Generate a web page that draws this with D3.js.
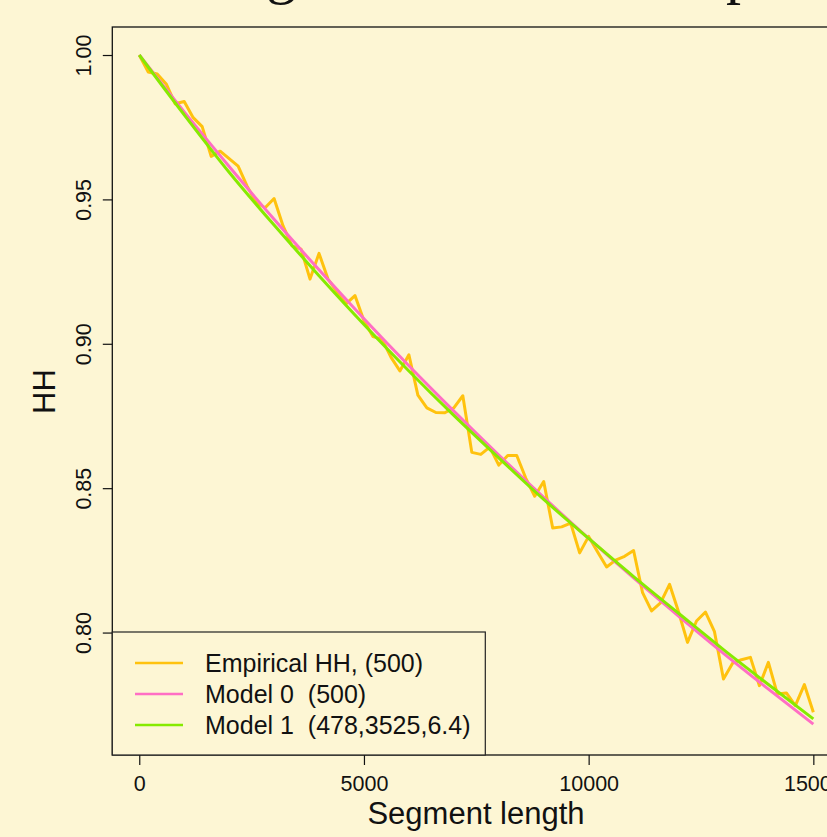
<!DOCTYPE html>
<html>
<head>
<meta charset="utf-8">
<script src="https://cdn.jsdelivr.net/npm/d3@7"></script>
<style>
  body { margin: 0; background: #fdf6d4; }
  svg { display: block; }
  text { font-family: "Liberation Sans", Arial, sans-serif; fill: #111; }
</style>
</head>
<body>
<svg width="827" height="837"></svg>
<script>
// segment lengths for the empirical curve
const segLen = [0, 200, 400, 600, 800, 1000, 1200, 1400, 1600, 1800,
  2000, 2200, 2400, 2600, 2800, 3000, 3200, 3400, 3600, 3800,
  4000, 4200, 4400, 4600, 4800, 5000, 5200, 5400, 5600, 5800,
  6000, 6200, 6400, 6600, 6800, 7000, 7200, 7400, 7600, 7800,
  8000, 8200, 8400, 8600, 8800, 9000, 9200, 9400, 9600, 9800,
  10000, 10200, 10400, 10600, 10800, 11000, 11200, 11400, 11600, 11800,
  12000, 12200, 12400, 12600, 12800, 13000, 13200, 13400, 13600, 13800,
  14000, 14200, 14400, 14600, 14800, 15000];

const empiricalHH = [1.0000, 0.9941, 0.9934, 0.9900, 0.9831, 0.9839, 0.9783, 0.9752, 0.9649, 0.9667,
  0.9641, 0.9615, 0.9546, 0.9489, 0.9471, 0.9503, 0.9408, 0.9339, 0.9328, 0.9224,
  0.9313, 0.9224, 0.9180, 0.9138, 0.9167, 0.9080, 0.9025, 0.9016, 0.8954, 0.8906,
  0.8962, 0.8822, 0.8778, 0.8762, 0.8761, 0.8778, 0.8820, 0.8624, 0.8617, 0.8642,
  0.8580, 0.8613, 0.8613, 0.8535, 0.8472, 0.8523, 0.8362, 0.8366, 0.8379, 0.8276,
  0.8333, 0.8279, 0.8227, 0.8251, 0.8264, 0.8284, 0.8138, 0.8075, 0.8103, 0.8167,
  0.8072, 0.7966, 0.8040, 0.8071, 0.8003, 0.7839, 0.7893, 0.7906, 0.7914, 0.7816,
  0.7897, 0.7787, 0.7791, 0.7747, 0.7820, 0.7724];

// model curves, read every 1000
const modelLen = [0, 1000, 2000, 3000, 4000, 5000, 6000, 7000, 8000, 9000,
  10000, 11000, 12000, 13000, 14000, 15000];
const model0 = [1.0000, 0.9803, 0.9614, 0.9431, 0.9256, 0.9087, 0.8924, 0.8767,
  0.8615, 0.8468, 0.8326, 0.8189, 0.8057, 0.7928, 0.7804, 0.7683];
const model1 = [1.0000, 0.9793, 0.9594, 0.9411, 0.9236, 0.9067, 0.8906, 0.8752,
  0.8605, 0.8461, 0.8326, 0.8194, 0.8067, 0.7941, 0.7820, 0.7701];

const xTicks = [0, 5000, 10000, 15000];
const yTicks = [0.80, 0.85, 0.90, 0.95, 1.00];

const legendItems = [
  { label: "Empirical HH, (500)", color: "#ffc20e" },
  { label: "Model 0  (500)", color: "#ff6ec4" },
  { label: "Model 1  (478,3525,6.4)", color: "#86ea00" }
];

const svg = d3.select("svg");

const x = d3.scaleLinear().domain([-600, 15600]).range([112.3, 840.3]);
const y = d3.scaleLinear().domain([0.7576, 1.0097]).range([755, 27]);

svg.append("rect").attr("width", 827).attr("height", 837).attr("fill", "#fdf6d4");

// title, only its descenders are left in the crop
svg.append("text")
  .attr("x", -297)
  .attr("y", -8)
  .style("font-family", "'Liberation Serif', 'Times New Roman', serif")
  .style("font-size", "60px")
  .text("Decline of HH with length in the total sample");

const line = d3.line().x(d => x(d[0])).y(d => y(d[1]));

svg.append("path")
  .datum(segLen.map((s, i) => [s, empiricalHH[i]]))
  .attr("d", line)
  .attr("fill", "none")
  .attr("stroke", legendItems[0].color)
  .attr("stroke-width", 3)
  .attr("stroke-linejoin", "round");

const smooth = d3.line().x(d => x(d[0])).y(d => y(d[1])).curve(d3.curveMonotoneX);

svg.append("path")
  .datum(modelLen.map((s, i) => [s, model0[i]]))
  .attr("d", smooth)
  .attr("fill", "none")
  .attr("stroke", legendItems[1].color)
  .attr("stroke-width", 3);

svg.append("path")
  .datum(modelLen.map((s, i) => [s, model1[i]]))
  .attr("d", smooth)
  .attr("fill", "none")
  .attr("stroke", legendItems[2].color)
  .attr("stroke-width", 3);

// plot frame
svg.append("rect")
  .attr("x", x(-600)).attr("y", y(1.0097))
  .attr("width", x(15600) - x(-600))
  .attr("height", y(0.7576) - y(1.0097))
  .attr("fill", "none")
  .attr("stroke", "#111")
  .attr("stroke-width", 1.3);

// x axis
svg.append("g")
  .attr("transform", "translate(0,755)")
  .call(d3.axisBottom(x).tickValues(xTicks).tickSize(10).tickPadding(11).tickFormat(d3.format("d")))
  .call(g => {
    g.select(".domain").remove();
    g.selectAll(".tick line").attr("stroke", "#111").attr("stroke-width", 1.2);
    g.selectAll(".tick text").style("font-size", "21.5px").attr("fill", "#111")
      .style("font-family", "'Liberation Sans', Arial, sans-serif");
  });

// y axis, labels turned like R does
svg.append("g")
  .attr("transform", "translate(112.3,0)")
  .call(d3.axisLeft(y).tickValues(yTicks).tickSize(9.5).tickFormat(d3.format(".2f")))
  .call(g => {
    g.select(".domain").remove();
    g.selectAll(".tick line").attr("stroke", "#111").attr("stroke-width", 1.2);
    g.selectAll(".tick text")
      .attr("x", null).attr("dy", null)
      .attr("transform", "translate(-21.5,0) rotate(-90)")
      .attr("text-anchor", "middle")
      .attr("fill", "#111")
      .style("font-size", "21.5px")
      .style("font-family", "'Liberation Sans', Arial, sans-serif");
  });

svg.append("text")
  .attr("x", 476).attr("y", 824)
  .attr("text-anchor", "middle")
  .style("font-size", "31px")
  .text("Segment length");

svg.append("text")
  .attr("transform", "translate(54.5,391.5) rotate(-90)")
  .attr("text-anchor", "middle")
  .style("font-size", "31px")
  .text("HH");

// legend
const lg = svg.append("g");
lg.append("rect")
  .attr("x", 112.3).attr("y", 632)
  .attr("width", 373).attr("height", 123)
  .attr("fill", "#fdf6d4")
  .attr("stroke", "#222")
  .attr("stroke-width", 1.2);

const rows = lg.selectAll("g.row")
  .data(legendItems)
  .enter()
  .append("g")
  .attr("class", "row")
  .attr("transform", (d, i) => `translate(0,${663 + i * 31})`);

rows.append("line")
  .attr("x1", 135).attr("x2", 183)
  .attr("stroke", d => d.color)
  .attr("stroke-width", 2.5);

rows.append("text")
  .attr("x", 205)
  .attr("dy", "0.36em")
  .attr("xml:space", "preserve")
  .style("white-space", "pre")
  .style("font-size", "25px")
  .text(d => d.label);
</script>
</body>
</html>
